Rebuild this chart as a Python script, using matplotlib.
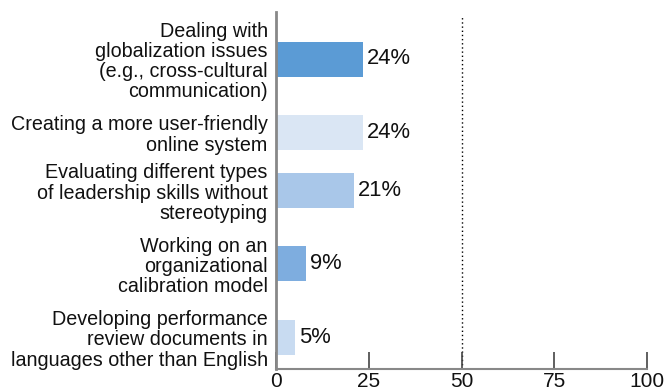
import matplotlib
matplotlib.use("Agg")
import matplotlib.pyplot as plt

# ---- data ----
categories = [
    "Dealing with\nglobalization issues\n(e.g., cross-cultural\ncommunication)",
    "Creating a more user-friendly\nonline system",
    "Evaluating different types\nof leadership skills without\nstereotyping",
    "Working on an\norganizational\ncalibration model",
    "Developing performance\nreview documents in\nlanguages other than English",
]
values = [23.4, 23.4, 21.0, 8.0, 5.1]
value_labels = ["24%", "24%", "21%", "9%", "5%"]
bar_colors = ["#5b9bd5", "#dae6f4", "#a9c7e9", "#7eaddf", "#c8dbf1"]
x_ticks = [0, 25, 50, 75, 100]
ref_value = 50

# ---- layout ----
W, H = 669, 390
ax_left, ax_right, ax_top, ax_bottom = 276, 647, 12, 369
ax_h = ax_bottom - ax_top

# slot layout based on number of label lines (pixel units inside axes)
lines = [c.count("\n") + 1 for c in categories]
pos = [47.0]
for i in range(1, len(categories)):
    avg = (lines[i - 1] + lines[i]) / 2
    pos.append(pos[-1] + 30.7 * avg - 18.7)

plt.rcParams['font.family'] = ['Liberation Sans', 'DejaVu Sans']

fig = plt.figure(figsize=(W / 100, H / 100), dpi=100)
ax = fig.add_axes([ax_left / W, 1 - ax_bottom / H,
                   (ax_right - ax_left) / W, ax_h / H])

ax.barh(pos, values, height=35, color=bar_colors, zorder=2)
ax.set_ylim(ax_h, 0)
ax.set_xlim(0, 100)

for p, v, lab in zip(pos, values, value_labels):
    ax.text(v + 1.2, p, lab, va="center", ha="left", fontsize=15.8, color="#111111")

ax.axvline(ref_value, ymin=0, ymax=1 - 4 / ax_h, color="black", lw=1,
           linestyle=(0, (1, 2)), zorder=1)

ax.set_yticks(pos)
ax.set_yticklabels(categories, fontsize=14.2, linespacing=1.08, color="#111111")
ax.tick_params(axis="y", length=0, pad=6)

ax.set_xticks(x_ticks)
ax.set_xticklabels([str(t) for t in x_ticks], fontsize=15, color="#111111")
ax.tick_params(axis="x", direction="in", length=12, width=1.2,
               color="#444444", pad=2)

for s in ["top", "right"]:
    ax.spines[s].set_visible(False)
ax.spines["left"].set_color("#888888")
ax.spines["left"].set_linewidth(2)
ax.spines["bottom"].set_color("#888888")
ax.spines["bottom"].set_linewidth(1.5)

fig.savefig("out.png", dpi=100)
